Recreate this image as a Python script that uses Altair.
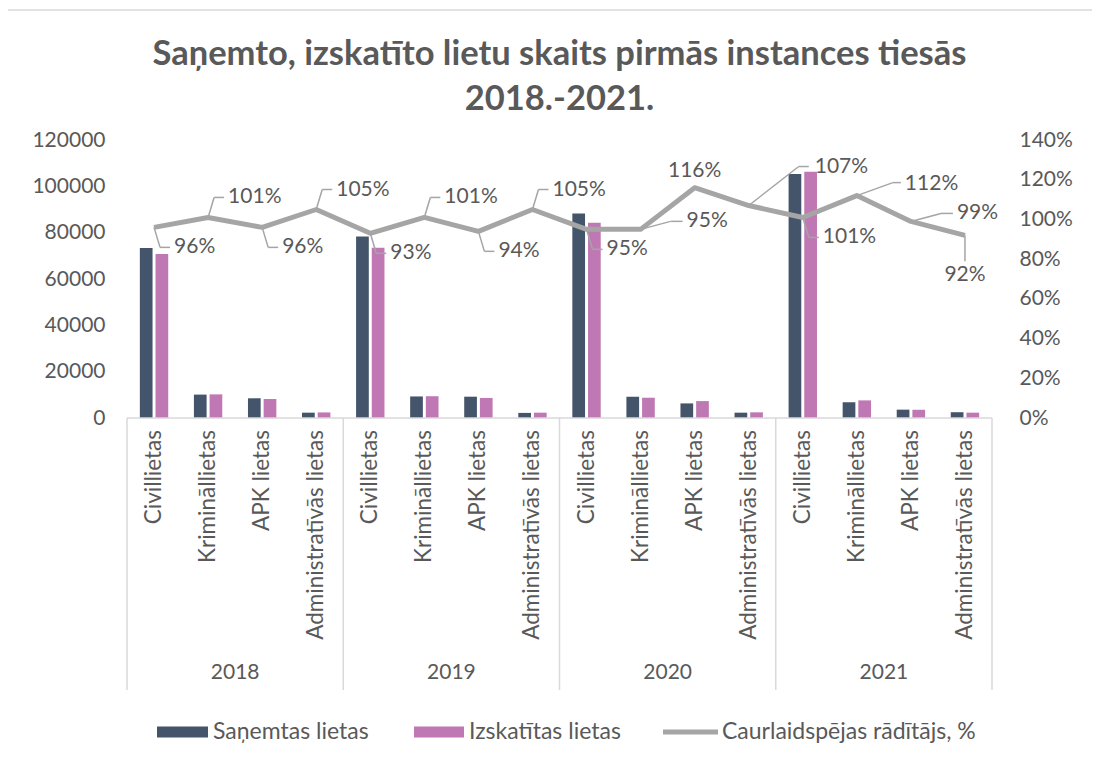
import altair as alt
import pandas as pd

# ---------------- data ----------------
years = ["2018", "2019", "2020", "2021"]
case_types = ["Civillietas", "Krimināllietas", "APK lietas", "Administratīvās lietas"]
series_names = ["Saņemtas lietas", "Izskatītas lietas", "Caurlaidspējas rādītājs, %"]

sanemtas = [73400, 10100, 8500, 2300,
            78300, 9300, 9200, 2200,
            88300, 9200, 6300, 2300,
            105300, 6800, 3600, 2500]
izskatitas = [70800, 10200, 8200, 2400,
              73500, 9400, 8650, 2300,
              84300, 8750, 7300, 2450,
              106300, 7600, 3550, 2300]
caurlaidspeja = [96, 101, 96, 105,
                 93, 101, 94, 105,
                 95, 95, 116, 107,
                 101, 112, 99, 92]

# label placement class for each point (layout only)
label_place = ["br", "ar", "br", "ar",
               "br", "ar", "br", "ar",
               "br", "r", "top", "far",
               "br", "ar2", "r", "bottom"]

# ---------------- styles ----------------
FONT = "Lato"
TXT = "#595959"
C_SAN = "#44546A"
C_IZS = "#BF78B3"
C_LINE = "#A5A5A5"
C_GRID = "#D9D9D9"
W, H = 865, 278

label_style = {
    "ar": dict(elbow=(6, -20), end=(16, -20), dx=20, dy=-20, align="left"),
    "br": dict(elbow=(6, 20), end=(16, 20), dx=20, dy=20, align="left"),
    "r": dict(elbow=(30, -8), end=(42, -8), dx=46, dy=-8, align="left"),
    "ar2": dict(elbow=(36, -13), end=(44, -13), dx=48, dy=-12, align="left"),
    "far": dict(elbow=(50, -39), end=(60, -39), dx=66, dy=-39, align="left"),
    "top": dict(elbow=None, end=None, dx=0, dy=-17, align="center"),
    "bottom": dict(elbow=(0, 26), end=None, dx=0, dy=40, align="center"),
}

# ---------------- tables ----------------
rows = []
for yi, yr in enumerate(years):
    for ci, ct in enumerate(case_types):
        i = yi * len(case_types) + ci
        rows.append(dict(idx=i, year=yr, kind=ct, pct=caurlaidspeja[i],
                         lbl=f"{caurlaidspeja[i]}%", place=label_place[i]))
df = pd.DataFrame(rows)

bar_rows = []
for i in range(len(sanemtas)):
    bar_rows.append(dict(idx=i, series=series_names[0], slot=0, value=sanemtas[i]))
    bar_rows.append(dict(idx=i, series=series_names[1], slot=1, value=izskatitas[i]))
bar_df = pd.DataFrame(bar_rows)

year_df = pd.DataFrame(dict(year=years,
                            center=[yi * len(case_types) + (len(case_types) - 1) / 2
                                    for yi in range(len(years))]))
bound_df = pd.DataFrame(dict(b=[yi * len(case_types) - 0.5 for yi in range(len(years) + 1)]))
one = pd.DataFrame(dict(k=[0]))

n = len(df)
xscale = alt.Scale(domain=[-0.5, n - 0.5], nice=False, zero=False)
yscale = alt.Scale(domain=[0, 120000], nice=False)
pscale = alt.Scale(domain=[0, 140], nice=False)

# ---------------- layers ----------------
bars = alt.Chart(bar_df).transform_calculate(
    x0="datum.idx - 0.2625 + datum.slot * 0.29",
    x1="datum.idx - 0.2625 + datum.slot * 0.29 + 0.235",
    base="0",
).mark_bar().encode(
    x=alt.X("x0:Q", scale=xscale, axis=None),
    x2="x1:Q",
    y=alt.Y("value:Q", scale=yscale, title=None,
            axis=alt.Axis(orient="left", values=list(range(0, 120001, 20000)),
                          format="d", labelPadding=22, tickSize=0)),
    y2="base:Q",
    color=alt.Color("series:N", scale=alt.Scale(domain=series_names[:2], range=[C_SAN, C_IZS]),
                    legend=None),
)

base_line = alt.Chart(one).mark_rule(color=C_GRID, strokeWidth=1.5).encode(
    x=alt.value(0), x2=alt.value(W), y=alt.value(H))

separators = alt.Chart(bound_df).mark_rule(color=C_GRID, strokeWidth=1.5).encode(
    x=alt.X("b:Q", scale=xscale, axis=None), y=alt.value(H), y2=alt.value(H + 272))

cat_labels = alt.Chart(df).mark_text(angle=270, align="right", baseline="middle",
                                     font=FONT, fontSize=22.5, color=TXT).encode(
    x=alt.X("idx:Q", scale=xscale, axis=None), y=alt.value(H + 12), text="kind:N")

year_labels = alt.Chart(year_df).mark_text(align="center", baseline="middle",
                                           font=FONT, fontSize=21, color=TXT).encode(
    x=alt.X("center:Q", scale=xscale, axis=None), y=alt.value(H + 255), text="year:N")

# manual legend
LY = 592
LFS = 23
leg = [
    alt.Chart(one).mark_rect(color=C_SAN).encode(
        x=alt.value(30), x2=alt.value(81), y=alt.value(LY - 5.5), y2=alt.value(LY + 5.5)),
    alt.Chart(one).mark_text(align="left", baseline="middle", font=FONT, fontSize=LFS,
                             color=TXT, text=series_names[0]).encode(
        x=alt.value(86), y=alt.value(LY)),
    alt.Chart(one).mark_rect(color=C_IZS).encode(
        x=alt.value(287), x2=alt.value(337), y=alt.value(LY - 5.5), y2=alt.value(LY + 5.5)),
    alt.Chart(one).mark_text(align="left", baseline="middle", font=FONT, fontSize=LFS,
                             color=TXT, text=series_names[1]).encode(
        x=alt.value(342), y=alt.value(LY)),
    alt.Chart(one).mark_rule(color=C_LINE, strokeWidth=5).encode(
        x=alt.value(536), x2=alt.value(591), y=alt.value(LY)),
    alt.Chart(one).mark_text(align="left", baseline="middle", font=FONT, fontSize=LFS,
                             color=TXT, text=series_names[2]).encode(
        x=alt.value(595), y=alt.value(LY)),
]

border = alt.Chart(one).mark_rect(fillOpacity=0, stroke=C_GRID, strokeWidth=1.5).encode(
    x=alt.value(-120), x2=alt.value(1200), y=alt.value(-130), y2=alt.value(800))

line = alt.Chart(df).mark_line(color=C_LINE, strokeWidth=5, strokeJoin="round").encode(
    x=alt.X("idx:Q", scale=xscale, axis=None),
    y=alt.Y("pct:Q", scale=pscale, title=None,
            axis=alt.Axis(orient="right", values=list(range(0, 141, 20)),
                          labelExpr="datum.value + '%'", labelPadding=27, tickSize=0)),
)

leaders = []
texts = []
for cls, st in label_style.items():
    sub = alt.Chart(df).transform_filter(f"datum.place == '{cls}'")
    enc = dict(x=alt.X("idx:Q", scale=xscale, axis=None),
               y=alt.Y("pct:Q", scale=pscale, axis=None))
    if st["elbow"] is not None:
        ex, ey = st["elbow"]
        leaders.append(sub.mark_rule(color=C_LINE, strokeWidth=1.5,
                                     xOffset=0, yOffset=0, x2Offset=ex, y2Offset=ey).encode(
            x2=alt.X2("idx"), y2=alt.Y2("pct"), **enc))
        if st["end"] is not None:
            fx, fy = st["end"]
            leaders.append(sub.mark_rule(color=C_LINE, strokeWidth=1.5,
                                         xOffset=ex, yOffset=ey, x2Offset=fx, y2Offset=fy).encode(
                x2=alt.X2("idx"), y2=alt.Y2("pct"), **enc))
    texts.append(sub.mark_text(align=st["align"], baseline="middle", dx=st["dx"], dy=st["dy"],
                               font=FONT, fontSize=21, color=TXT).encode(
        text="lbl:N", **enc))

chart = alt.layer(
    border, bars, base_line, separators, cat_labels, year_labels, *leg,
    *leaders, line, *texts
).resolve_scale(y="independent").properties(
    width=W, height=H,
    autosize=alt.AutoSizeParams(type="none"),
    padding={"left": 119, "top": 132, "right": 100, "bottom": 339},
    title=alt.TitleParams(
        text=["Saņemto, izskatīto lietu skaits pirmās instances tiesās", "2018.-2021."],
        font=FONT, fontSize=34.5, fontWeight="bold", color=TXT, lineHeight=45,
        anchor="middle", frame="group", baseline="alphabetic", offset=-135),
).configure_view(strokeWidth=0).configure_axis(
    grid=False, domain=False, ticks=False, labelFont=FONT, labelColor=TXT, labelFontSize=21
)

chart.save("out.html", embed_options={"renderer": "svg", "actions": False})
